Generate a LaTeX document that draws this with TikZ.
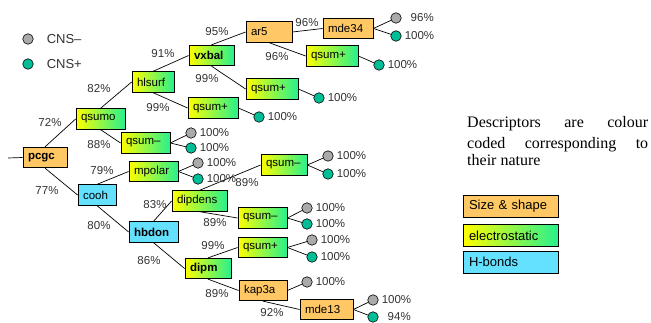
\documentclass[tikz,border=0pt]{standalone}
\usepackage{fontspec}
\setmainfont{Liberation Serif}
\setsansfont{Liberation Sans}
\usepackage{tikz}
\usetikzlibrary{positioning}
\definecolor{sizeorange}{RGB}{255,200,100}
\definecolor{hbcyan}{RGB}{100,225,255}
\definecolor{elecgreen}{RGB}{40,240,140}
\definecolor{cnsgray}{RGB}{170,170,170}
\definecolor{cnsteal}{RGB}{0,190,150}
\definecolor{labelgray}{RGB}{50,50,50}

\begin{document}
\begin{tikzpicture}[x=1pt, y=-1pt,
    font=\sffamily\fontsize{11.5}{13}\selectfont,
    descbox/.style={draw, line width=0.8pt, inner xsep=5pt, inner ysep=0pt,
        minimum height=20.5pt, text width=#1, align=left},
    sizebox/.style={descbox=#1, fill=sizeorange},
    elecbox/.style={descbox=#1, left color=yellow, right color=elecgreen},
    hbbox/.style={descbox=#1, fill=hbcyan},
    leaf/.style={circle, draw, line width=0.6pt, minimum size=10.5pt, inner sep=0pt},
    negleaf/.style={leaf, fill=cnsgray},
    posleaf/.style={leaf, fill=cnsteal},
    pct/.style={text=labelgray, inner sep=0pt},
    leaflabel/.style={pct, text width=29pt, align=right},
    branch/.style={line width=0.7pt},
    legbox/.style={draw, line width=0.8pt, inner xsep=6pt, inner ysep=0pt,
        minimum height=22pt, text width=83pt, align=left,
        font=\sffamily\fontsize{13}{15}\selectfont},
    keytext/.style={font=\rmfamily\fontsize{16}{18}\selectfont, inner sep=0pt,
        anchor=base west, text depth=0pt},
]
    \useasboundingbox (0,0) rectangle (651,323);

    % Legend
    \node[negleaf] (cnsm) at (28,39) {};
    \node[pct, right=13pt of cnsm, font=\sffamily\fontsize{13}{15}\selectfont] (cnsm-t) {CNS–};
    \node[posleaf] (cnsp) at (28,64) {};
    \node[pct, right=13pt of cnsp, font=\sffamily\fontsize{13}{15}\selectfont] (cnsp-t) {CNS+};

    % Descriptor nodes
    \node[sizebox=34pt] (pcgc) at (45,157.5) {\textbf{pcgc}};
    \node[elecbox=39pt] (qsumo) at (100.5,119) {qsumo};
    \node[hbbox=28pt] (cooh) at (97,195) {cooh};
    \node[elecbox=32pt] (hlsurf) at (153,82) {hlsurf};
    \node[elecbox=39pt] (qsumm1) at (145.5,143) {qsum–};
    \node[elecbox=35pt] (vxbal) at (211.5,55.5) {\textbf{vxbal}};
    \node[elecbox=40pt] (qsump1) at (213,108) {qsum+};
    \node[sizebox=36pt] (ar5) at (269,32) {ar5};
    \node[elecbox=42pt] (qsump2) at (272,89) {qsum+};
    \node[sizebox=40pt] (mde34) at (348,28.5) {mde34};
    \node[elecbox=42pt] (qsump3) at (332,56) {qsum+};
    \node[elecbox=39pt] (mpolar) at (153.5,171.5) {mpolar};
    \node[hbbox=39pt] (hbdon) at (153.5,232) {\textbf{hbdon}};
    \node[elecbox=45pt] (dipdens) at (199.5,201) {dipdens};
    \node[elecbox=36pt] (qsumm2) at (284,165) {qsum–};
    \node[elecbox=39pt] (qsumm3) at (262.5,218) {qsum–};
    \node[elecbox=36pt] (dipm) at (208,268.5) {\textbf{dipm}};
    \node[elecbox=39pt] (qsump4) at (262.5,247.5) {qsum+};
    \node[sizebox=38pt] (kap3a) at (263,290.5) {kap3a};
    \node[sizebox=43pt] (mde13) at (326.5,309.5) {mde13};

    % Branches
    \coordinate (root) at (8,158);
    \draw[branch] (root) -- (pcgc.west);
    \foreach \a/\b in {pcgc/qsumo, qsumo/hlsurf, hlsurf/vxbal, vxbal/ar5,
                      cooh/mpolar, hbdon/dipdens, dipdens/qsumm2, dipm/qsump4}
        \draw[branch] (\a.north) -- (\b.west);
    \foreach \a/\b in {pcgc/cooh, qsumo/qsumm1, hlsurf/qsump1, vxbal/qsump2,
                      ar5/qsump3, cooh/hbdon, hbdon/dipm, dipdens/qsumm3,
                      dipm/kap3a, kap3a/mde13}
        \draw[branch] (\a.south) -- (\b.west);
    \draw[branch] (ar5.east) -- (mde34.west);

    % Leaves
    \foreach \n/\s/\x/\y/\p/\t in {m34a/negleaf/396/18/mde34/96, m34b/posleaf/396/36/mde34/100,
            qp3a/posleaf/379/65/qsump3/100, qp2a/posleaf/319/98/qsump2/100,
            qp1a/posleaf/259/117/qsump1/100, qm1a/negleaf/191/133/qsumm1/100,
            qm1b/posleaf/191/148/qsumm1/100, mpa/negleaf/198/163/mpolar/100,
            mpb/posleaf/198/179/mpolar/100, qm2a/negleaf/328/156/qsumm2/100,
            qm2b/posleaf/328/174/qsumm2/100, qm3a/negleaf/307/208/qsumm3/100,
            qm3b/posleaf/307/224/qsumm3/100, qp4a/negleaf/312/240/qsump4/100,
            qp4b/posleaf/312/257/qsump4/100, kpa/negleaf/307/282/kap3a/100,
            m13a/negleaf/373/300/mde13/100, m13b/posleaf/373/317/mde13/94} {
        \draw[branch] (\p.east) -- (\x,\y);
        \node[\s] (\n) at (\x,\y) {};
        \node[leaflabel, right=3pt of \n] (\n-t) {\t\%};
    }

    % Percentages on branches
    \foreach \i/\x/\y/\t in {1/50/123/72, 2/47/191/77, 3/99/89/82, 4/99/145/88,
            5/163/54/91, 6/158/108/99, 7/217/32/95, 8/207/79/99, 9/307/23/96,
            10/277/57/96, 11/102/171/79, 12/99/226/80, 13/155/205/83,
            14/149/261/86, 15/247/183/89, 16/215/223/89, 17/213/246/99,
            18/217/294/89, 19/272/313/92}
        \node[pct] (p-\i) at (\x,\y) {\t\%};

    % Colour key
    \node[keytext] (desc1) at (467,128) {\makebox[181pt][s]{Descriptors are colour}};
    \node[keytext] (desc2) at (467,148.5) {\makebox[181pt][s]{coded corresponding to}};
    \node[keytext] (desc3) at (467,165.5) {their nature};
    \node[legbox, fill=sizeorange] (legsize) at (510.5,206) {Size \& shape};
    \node[legbox, left color=yellow, right color=elecgreen] (legelec) at (510.5,235.5) {electrostatic};
    \node[legbox, fill=hbcyan] (leghb) at (510.5,262) {H-bonds};
\end{tikzpicture}
\end{document}
